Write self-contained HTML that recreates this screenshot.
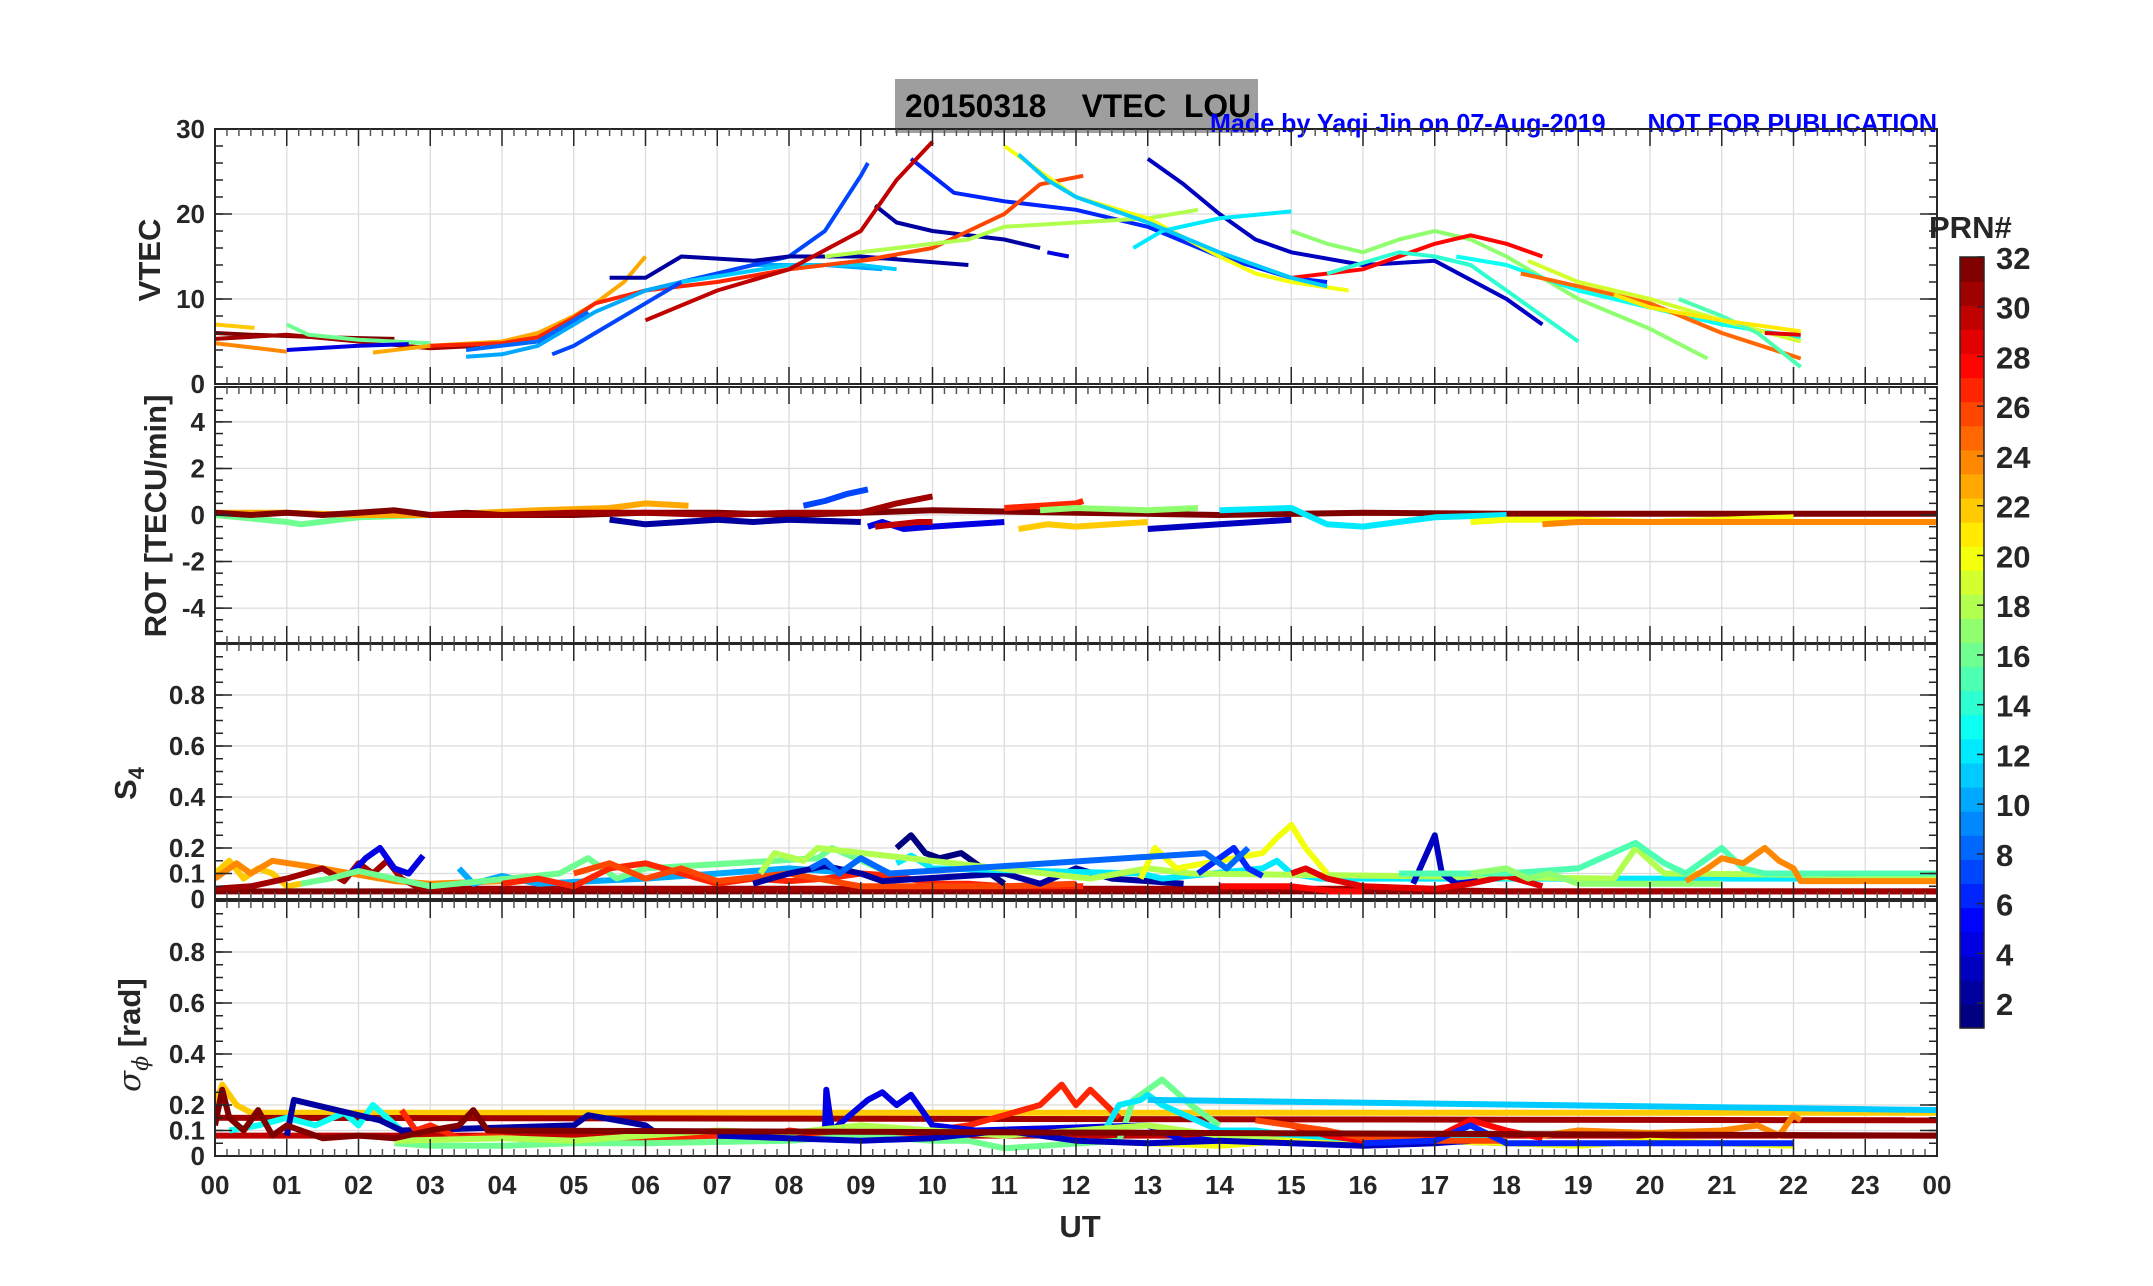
<!DOCTYPE html>
<html><head><meta charset="utf-8">
<style>
html,body{margin:0;padding:0;background:#fff;}
svg{display:block;font-family:"Liberation Sans",Arial,sans-serif;}
.tk{font-weight:bold;fill:#262626;font-size:26px;}
.al{font-weight:bold;fill:#262626;font-size:31px;}
</style></head>
<body>
<svg id="fig" width="2153" height="1286" viewBox="0 0 2153 1286" xmlns="http://www.w3.org/2000/svg">
<rect x="895" y="79" width="363" height="54" fill="#9e9e9e"/>
<text x="905" y="117" font-size="32" font-weight="bold" fill="#000" xml:space="preserve" style="white-space:pre" textLength="346" lengthAdjust="spacingAndGlyphs">20150318    VTEC  LOU</text>
<text x="1210" y="132" font-size="26" font-weight="bold" fill="#0000ff" xml:space="preserve" style="white-space:pre" textLength="727" lengthAdjust="spacingAndGlyphs">Made by Yaqi Jin on 07-Aug-2019      NOT FOR PUBLICATION</text>
<g id="layer"></g>
</svg>
<script>
// ---------- data ----------
const hourLabels = ["00","01","02","03","04","05","06","07","08","09","10","11","12","13","14","15","16","17","18","19","20","21","22","23","00"];
const vtecTicks = [0,10,20,30];
const rotTicks = [-4,-2,0,2,4];
const s4Ticks = [0,0.1,0.2,0.4,0.6,0.8];
const sigTicks = [0,0.1,0.2,0.4,0.6,0.8];
const prnTicks = [2,4,6,8,10,12,14,16,18,20,22,24,26,28,30,32];

// VTEC tracks
const vtecPrn = [32,31,24,22,16,4,23,27,10,7,2,2,4,6,11,26,18,3,20,12,17,28,14,13,19,25,15,11,29,30,8,21];
const vtecHours = [
 [0,0.5,1.5,2.5],
 [0,1,2,3,3.7],
 [0,0.5,1.0],
 [0,0.55],
 [1.0,1.3,2,3],
 [1.0,2,2.7],
 [2.2,3,4,4.5,5,5.3,5.7,6.0],
 [3,4,4.5,5,5.3,6,7,8,9,9.5],
 [3.5,4,4.5,5,5.3,6,6.5,7.5,8.5,9.3],
 [4.7,5.0,5.3,6,6.5,7,8,8.5,9,9.1],
 [5.5,6.0,6.5,7.5,8,9,10.5],
 [9.2,9.5,10,11,11.5],
 [11.6,11.9],
 [9.7,10.3,11,12,13,14,15,15.5],
 [6.5,8,9,9.5],
 [7.4,8,9,10,11,11.5,12.1],
 [8.5,9.5,10.5,11,12,13,13.7],
 [13,13.5,14,14.5,15,16,17,18,18.5],
 [11,11.5,12,13,14,14.5,15,15.8],
 [12.8,13.2,14,15],
 [15,15.5,16,16.5,17,17.5,18,19,20,20.8],
 [15,16,17,17.5,18,18.5],
 [15.5,16.5,17,17.5,18,19],
 [17.3,18,19,20,21,22.1],
 [18.3,19,20,21,22.1],
 [18.2,19,20,21,22.1],
 [20.4,21,21.5,22.1],
 [11.2,11.6,12,13,14,15,15.5],
 [21.6,22.1],
 [6.0,7,8,9,9.5,10],
 [3.5,4.5,5.2],
 [19.5,20,21,22.1]
];
const vtecVals = [
 [6,5.8,5.5,5.3],
 [5.3,5.8,5.0,4.2,4.5],
 [4.8,4.3,3.8],
 [7,6.6],
 [7,5.8,5.2,4.8],
 [4,4.5,4.7],
 [3.7,4.5,5,6,8,9.5,12,15],
 [4.5,4.8,5.5,7.8,9.5,11,12,13.5,14.5,15],
 [3.2,3.5,4.5,7,8.5,11,12,14,14,13.5],
 [3.5,4.5,6,9.5,12,13,15,18,24.5,26],
 [12.5,12.5,15,14.5,15,15,14],
 [21,19,18,17,16],
 [15.5,15],
 [26.5,22.5,21.5,20.5,18.5,15,12.5,12],
 [12,14,14,13.5],
 [12,13.5,14.5,16,20,23.5,24.5],
 [15,16,17,18.5,19,19.5,20.5],
 [26.5,23.5,20,17,15.5,14,14.5,10,7],
 [28,25,22,19.5,15,13,12,11],
 [16,18,19.5,20.3],
 [18,16.5,15.5,17,18,17,15,10,6.5,3],
 [12.5,13.5,16.5,17.5,16.5,15],
 [13,15.5,15,14,11,5],
 [15,14,11,9,7,5.5],
 [14.5,12,10,7.5,5],
 [13,11.5,9.5,6,3],
 [10,8,6,2],
 [27,24,22,19,15.5,12.5,11.5],
 [6,5.8],
 [7.5,11,13.5,18,24,28.5],
 [4,5,8.5],
 [10.5,9,7.5,6.2]
];

// ROT tracks
const rotPrn = [16,23,32,31,7,4,30,2,22,27,17,3,12,20,24];
const rotHours = [
 [0,1,1.2,2,3,4,5],
 [0,1,2,3,4.5,5.5,6,6.6],
 [0,0.5,1,1.5,2,2.5,3,3.5,4,5,6,7,8,9,10,12,14,16,18,20,22,24],
 [3,4,5,6,7,8,9,9.5,10],
 [8.2,8.5,8.8,9.1],
 [9.1,9.3,9.6,10,10.5,11],
 [9.2,9.5,9.8,10],
 [5.5,6,6.5,7,7.5,8,9],
 [11.2,11.6,12,12.5,13],
 [11,11.5,12,12.1],
 [11.5,12,13,13.7],
 [13,13.5,14,14.5,15],
 [14,15,15.5,16,17,18],
 [17.5,18,19,20,21,22],
 [18.5,19,20,22,24]
];
const rotVals = [
 [0,-0.3,-0.4,-0.1,0,0.1,0.1],
 [0.1,0.1,0,0,0.2,0.3,0.5,0.4],
 [0.1,0,0.1,0,0.1,0.2,0,0.1,0,0,0.1,0.1,0,0.1,0.2,0.1,0,0.1,0.05,0.05,0.05,0.05],
 [0,0,0.1,0.1,0,0.1,0.1,0.5,0.8],
 [0.4,0.6,0.9,1.1],
 [-0.5,-0.3,-0.6,-0.5,-0.4,-0.3],
 [-0.5,-0.4,-0.3,-0.3],
 [-0.2,-0.4,-0.3,-0.2,-0.3,-0.2,-0.3],
 [-0.6,-0.4,-0.5,-0.4,-0.3],
 [0.3,0.4,0.5,0.6],
 [0.2,0.3,0.2,0.3],
 [-0.6,-0.5,-0.4,-0.3,-0.2],
 [0.2,0.3,-0.4,-0.5,-0.1,0],
 [-0.3,-0.2,-0.2,-0.3,-0.2,-0.1],
 [-0.4,-0.3,-0.3,-0.3,-0.3]
];

// S4 tracks
const s4Prn = [22,24,32,31,4,10,16,27,26,1,2,12,18,20,6,8,3,29,15,28,17,24];
const s4Hours = [
 [0,0.2,0.4,0.6,0.8,1.0,1.2],
 [0,0.3,0.5,0.8,1.5,2.5,3,4],
 [0,24],
 [0,0.5,1,1.5,1.8,2,2.2,2.4,2.6,2.8,3,4,6,8,10,12,14,16,18,20,24],
 [1.9,2.1,2.3,2.5,2.7,2.9],
 [3.4,3.6,4,4.5,6,7,8,9],
 [1.2,1.6,2,3,4.8,5.2,5.6,6,8.4,8.6,9.5],
 [4,4.5,5,5.5,6,6.5,7,7.5,8,8.5,9,9.5,10,10.5,11,12.1],
 [5,5.5,6,6.5,7,8,9,10,11,12],
 [9.5,9.7,9.9,10.1,10.4,10.7,11],
 [7.5,8,8.5,9,9.3,11,11.5,12,12.5,13,13.5],
 [9.5,9.7,10,12.9,13.2,14.6,14.8,15,15.4,24],
 [7.6,7.8,8.2,8.4,12.2,12.6,13,13.6,19.5,19.8,20.2,24],
 [12.9,13.1,13.4,14.6,14.8,15,15.2,15.5],
 [13.7,14,14.2,14.4,14.6],
 [8.3,8.5,8.7,9,9.4,13.8,14.1,14.4],
 [16.7,17,17.1,17.3,17.6],
 [15,15.2,15.5,16,17,17.5,18,18.5],
 [16.5,18,19,19.8,20.2,20.5,21,21.3,21.6,24],
 [14,15,15.3,15.6,16],
 [17.5,18,18.3,18.6,19,20,21],
 [20.5,20.8,21,21.3,21.6,21.8,22,22.1,24]
];
const s4Vals = [
 [0.1,0.15,0.08,0.12,0.1,0.05,0.06],
 [0.08,0.14,0.1,0.15,0.12,0.07,0.06,0.07],
 [0.03,0.03],
 [0.04,0.05,0.08,0.12,0.07,0.14,0.1,0.15,0.08,0.05,0.04,0.04,0.04,0.04,0.04,0.04,0.04,0.04,0.03,0.03,0.03],
 [0.1,0.16,0.2,0.12,0.1,0.17],
 [0.12,0.06,0.09,0.06,0.08,0.1,0.12,0.1],
 [0.06,0.08,0.11,0.05,0.1,0.16,0.08,0.12,0.16,0.2,0.09],
 [0.06,0.08,0.05,0.12,0.14,0.1,0.06,0.08,0.07,0.08,0.1,0.09,0.06,0.06,0.05,0.05],
 [0.1,0.14,0.08,0.12,0.07,0.1,0.05,0.05,0.05,0.06],
 [0.2,0.25,0.18,0.16,0.18,0.12,0.06],
 [0.06,0.1,0.13,0.1,0.07,0.1,0.06,0.12,0.08,0.07,0.06],
 [0.14,0.17,0.12,0.1,0.08,0.12,0.15,0.1,0.08,0.08],
 [0.1,0.18,0.15,0.2,0.08,0.1,0.12,0.1,0.08,0.2,0.1,0.09],
 [0.08,0.2,0.12,0.18,0.24,0.29,0.2,0.1],
 [0.1,0.16,0.2,0.12,0.09],
 [0.12,0.15,0.1,0.16,0.1,0.18,0.12,0.2],
 [0.06,0.25,0.1,0.06,0.07],
 [0.1,0.12,0.08,0.05,0.04,0.06,0.09,0.05],
 [0.1,0.1,0.12,0.22,0.14,0.1,0.2,0.12,0.1,0.1],
 [0.05,0.05,0.04,0.03,0.03],
 [0.1,0.12,0.08,0.1,0.06,0.06,0.06],
 [0.07,0.12,0.16,0.14,0.2,0.15,0.12,0.07,0.07]
];

// sigma-phi tracks
const sigPrn = [22,31,30,13,2,27,16,4,12,18,20,3,28,11,24,26,6,32];
const sigHours = [
 [0,0.1,0.3,0.5,0.7,24],
 [0,24],
 [0,24],
 [0.2,0.6,1,1.4,1.8,2,2.2,2.6],
 [1,1.1,2.3,2.6,5,5.2,6,6.2],
 [2.6,2.8,3,3.4,3.8,4.5,5,6,7,7.5,8,9,10,10.5,11,11.5,11.8,12,12.2,12.6],
 [2.5,3,4,5,6,8,9,10,10.5,11,12.6,12.8,13,13.2,13.6,14],
 [8.5,8.52,8.6,9.1,9.3,9.5,9.7,10,10.6,13,13.5,14,16,17,18],
 [12.4,12.6,12.9,13,13.2,14,14.5,15,16,17,18],
 [2.5,4,5,6,7,8,9,10,11,12,13,14,15],
 [11,12,13,14,14.5,15,15.5,16,17,18,19,20,21,22],
 [7,8,9,10,11,12,13,14,15,16,17,17.5],
 [15,15.5,16,17,17.5,18,18.5],
 [13,24],
 [18.5,19,20,21,21.5,21.8,22,22.1],
 [14.5,15,15.5,16,17,18],
 [16,17,17.5,18,19,20,21,22],
 [0,0.1,0.2,0.4,0.6,0.8,1,1.5,2,2.5,3,3.4,3.6,3.8,24]
];
const sigVals = [
 [0.2,0.28,0.2,0.17,0.17,0.17],
 [0.15,0.14],
 [0.08,0.08],
 [0.1,0.12,0.15,0.12,0.17,0.12,0.2,0.1],
 [0.08,0.22,0.14,0.1,0.12,0.16,0.12,0.08],
 [0.18,0.1,0.12,0.07,0.08,0.06,0.06,0.07,0.08,0.06,0.1,0.07,0.1,0.12,0.16,0.2,0.28,0.2,0.26,0.15],
 [0.05,0.04,0.04,0.05,0.05,0.06,0.08,0.06,0.06,0.03,0.06,0.22,0.26,0.3,0.2,0.12],
 [0.1,0.26,0.1,0.22,0.25,0.2,0.24,0.12,0.1,0.12,0.06,0.07,0.05,0.06,0.05],
 [0.1,0.2,0.22,0.24,0.2,0.1,0.1,0.08,0.06,0.07,0.06],
 [0.06,0.07,0.06,0.08,0.1,0.09,0.12,0.1,0.08,0.1,0.12,0.08,0.06],
 [0.1,0.06,0.05,0.04,0.05,0.06,0.05,0.04,0.06,0.05,0.04,0.06,0.05,0.04],
 [0.08,0.07,0.06,0.07,0.1,0.06,0.05,0.06,0.05,0.04,0.05,0.06],
 [0.12,0.08,0.06,0.07,0.14,0.1,0.07],
 [0.22,0.18],
 [0.08,0.1,0.09,0.1,0.12,0.08,0.16,0.14],
 [0.14,0.12,0.1,0.07,0.06,0.06],
 [0.05,0.06,0.12,0.05,0.05,0.05,0.05,0.05],
 [0.12,0.26,0.15,0.1,0.18,0.08,0.12,0.07,0.08,0.07,0.1,0.12,0.18,0.1,0.08]
];

// ---------- layout ----------
const X0 = 215, X1 = 1937;
const panels = [
 {name:"vtec", top:129, bot:384, min:0, max:30, ticks:vtecTicks, minor:2, lw:4},
 {name:"rot", top:387, bot:643, min:-5.5, max:5.5, ticks:rotTicks, minor:0.5, lw:6},
 {name:"s4", top:644, bot:899, min:0, max:1, ticks:s4Ticks, minor:0.05, lw:6},
 {name:"sigma", top:901, bot:1156, min:0, max:1, ticks:sigTicks, minor:0.05, lw:6}
];
const NS = "http://www.w3.org/2000/svg";
const layer = document.getElementById("layer");
function xs(h){ return X0 + (X1 - X0) * h / 24; }
function ys(p, v){ return p.bot - (p.bot - p.top) * (v - p.min) / (p.max - p.min); }
function mk(tag, attrs, parent){
  const e = document.createElementNS(NS, tag);
  for (const k in attrs) e.setAttribute(k, attrs[k]);
  (parent || layer).appendChild(e);
  return e;
}
function jet(i, n){
  const t = n > 1 ? i / (n - 1) : 0;
  const r = Math.min(Math.max(Math.min(4*t - 1.5, -4*t + 4.5), 0), 1);
  const g = Math.min(Math.max(Math.min(4*t - 0.5, -4*t + 3.5), 0), 1);
  const b = Math.min(Math.max(Math.min(4*t + 0.5, -4*t + 2.5), 0), 1);
  return "rgb(" + Math.round(r*255) + "," + Math.round(g*255) + "," + Math.round(b*255) + ")";
}
function prnColor(p){ return jet(p - 1, 32); }

// grid
panels.forEach(function(p){
  const g = mk("g", {});
  
  
  for (let h = 1; h < 24; h++) {
    const ln = mk("line", {x1:xs(h), x2:xs(h), y1:p.top, y2:p.bot, stroke:"#dcdcdc", "stroke-width":1.3}, g);
    
    
  }
  p.ticks.forEach(function(v){
    const ln = mk("line", {x1:X0, x2:X1, y1:ys(p,v), y2:ys(p,v), stroke:"#dcdcdc", "stroke-width":1.3}, g);
    
    
  });
});

function drawSeries(p, prns, hours, vals, label){
  const g = mk("g", {"clip-path":"url(#clip-" + p.name + ")"});
  
  
  prns.forEach(function(prn, i){
    let pts = [];
    for (let k = 0; k < hours[i].length; k++) pts.push(xs(hours[i][k]).toFixed(1) + "," + ys(p, vals[i][k]).toFixed(1));
    const pl = mk("polyline", {points:pts.join(" "), fill:"none", stroke:prnColor(prn), "stroke-width":p.lw, "stroke-linejoin":"round", "stroke-linecap":"butt"}, g);
    
    
  });
}
const defs = mk("defs", {});
panels.forEach(function(p){
  const cp = mk("clipPath", {id:"clip-" + p.name}, defs);
  mk("rect", {x:X0, y:p.top, width:X1-X0, height:p.bot-p.top}, cp);
});
drawSeries(panels[0], vtecPrn, vtecHours, vtecVals, "vtec");
drawSeries(panels[1], rotPrn, rotHours, rotVals, "rot");
drawSeries(panels[2], s4Prn, s4Hours, s4Vals, "s4");
drawSeries(panels[3], sigPrn, sigHours, sigVals, "sigma");

// axes, ticks, labels
panels.forEach(function(p){
  const g = mk("g", {});
  
  
  const fr = mk("rect", {x:X0, y:p.top, width:X1-X0, height:p.bot-p.top, fill:"none", stroke:"#262626", "stroke-width":2}, g);
  
  
  for (let m = 0; m <= 144; m++) {
    const x = X0 + (X1 - X0) * m / 144;
    const major = m % 6 === 0;
    const L = major ? 17 : 7;
    const col = major ? "#262626" : "#555";
    mk("line", {x1:x, x2:x, y1:p.bot, y2:p.bot - L, stroke:col, "stroke-width":1.5}, g);
    mk("line", {x1:x, x2:x, y1:p.top, y2:p.top + L, stroke:col, "stroke-width":1.5}, g);
  }
  const nMinor = Math.round((p.max - p.min) / p.minor);
  for (let k = 0; k <= nMinor; k++) {
    const y = ys(p, p.min + k * p.minor);
    mk("line", {x1:X0, x2:X0 + 8, y1:y, y2:y, stroke:"#262626", "stroke-width":1.5}, g);
    mk("line", {x1:X1, x2:X1 - 8, y1:y, y2:y, stroke:"#262626", "stroke-width":1.5}, g);
  }
  p.ticks.forEach(function(v){
    const y = ys(p, v);
    mk("line", {x1:X0, x2:X0 + 17, y1:y, y2:y, stroke:"#262626", "stroke-width":1.5}, g);
    mk("line", {x1:X1, x2:X1 - 17, y1:y, y2:y, stroke:"#262626", "stroke-width":1.5}, g);
    const t = mk("text", {x:X0 - 10, y:y + 9, "text-anchor":"end", class:"tk"}, g);
    t.textContent = String(v);
    
    
  });
});

// x tick labels
hourLabels.forEach(function(lab, i){
  const t = mk("text", {x:xs(i), y:1194, "text-anchor":"middle", class:"tk", "font-size":"28"});
  t.textContent = lab;
  
  
});
const ut = mk("text", {x:1080, y:1237, "text-anchor":"middle", class:"al"});
ut.textContent = "UT";



// y axis titles
function ytitle(txt, cx, cy, name){
  const t = mk("text", {x:0, y:0, "text-anchor":"middle", class:"al", transform:"translate(" + cx + "," + cy + ") rotate(-90)"});
  t.textContent = txt;
  
  
  return t;
}
ytitle("VTEC", 160, 260, "vtec-axis-title");
ytitle("ROT [TECU/min]", 166, 516, "rot-axis-title");
const s4t = mk("text", {x:0, y:0, class:"al", transform:"translate(136,800) rotate(-90)"});
s4t.innerHTML = 'S<tspan font-size="22" dy="8">4</tspan>';


const sgt = mk("text", {x:0, y:0, class:"al", transform:"translate(140,1092) rotate(-90)"});
sgt.innerHTML = '<tspan font-style="italic" font-weight="normal" font-family="DejaVu Serif, serif">σ</tspan><tspan font-size="22" dy="8" font-style="italic" font-weight="normal" font-family="DejaVu Serif, serif">ϕ</tspan><tspan dy="-8"> [rad]</tspan>';



// colorbar
const CB_X = 1960, CB_W = 24, CB_TOP = 257, CB_BOT = 1028;
const cb = mk("g", {});


for (let i = 0; i < 32; i++) {
  const h = (CB_BOT - CB_TOP) / 32;
  const r = mk("rect", {x:CB_X, y:CB_BOT - (i + 1) * h, width:CB_W, height:h + 0.6, fill:jet(i, 32)}, cb);
  
  
}
mk("rect", {x:CB_X, y:CB_TOP, width:CB_W, height:CB_BOT - CB_TOP, fill:"none", stroke:"#262626", "stroke-width":1.5}, cb);
prnTicks.forEach(function(v){
  const y = CB_BOT - (CB_BOT - CB_TOP) * (v - 1) / 31;
  mk("line", {x1:CB_X + CB_W, x2:CB_X + CB_W - 7, y1:y, y2:y, stroke:"#262626", "stroke-width":1.5}, cb);
  const t = mk("text", {x:1996, y:y + 12, class:"al", "font-size":"32"}, cb);
  t.textContent = String(v);
  
  
});
const prnT = mk("text", {x:1929, y:238, class:"al", "font-size":"31", fill:"#000"});
prnT.textContent = "PRN#";


</script>
</body></html>
